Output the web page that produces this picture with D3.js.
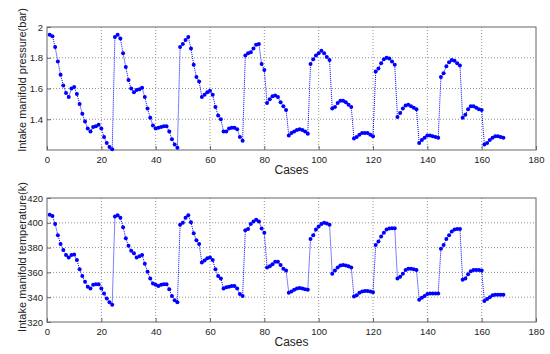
<!DOCTYPE html>
<html>
<head>
<meta charset="utf-8">
<script src="https://cdn.jsdelivr.net/npm/d3@7"></script>
<style>
  body { margin: 0; background: #fff; }
  text { font-family: Arial, "Liberation Sans", sans-serif; }
</style>
</head>
<body>
<svg id="chart" width="550" height="354"></svg>
<script>
// cases 1..168, 7 cycles of 24 (three 8-point steps each)
const pressure = [
  1.95, 1.94, 1.87, 1.775, 1.69, 1.62, 1.57, 1.545, 1.60, 1.61, 1.565, 1.50, 1.435, 1.385, 1.34, 1.32, 1.35, 1.355, 1.365, 1.34, 1.285, 1.245, 1.22, 1.205,
  1.935, 1.95, 1.925, 1.83, 1.74, 1.655, 1.60, 1.575, 1.59, 1.595, 1.605, 1.545, 1.47, 1.41, 1.36, 1.34, 1.345, 1.35, 1.355, 1.355, 1.32, 1.27, 1.235, 1.215,
  1.87, 1.89, 1.915, 1.935, 1.86, 1.755, 1.675, 1.645, 1.545, 1.56, 1.575, 1.585, 1.56, 1.48, 1.425, 1.40, 1.32, 1.32, 1.34, 1.345, 1.345, 1.335, 1.285, 1.26,
  1.815, 1.83, 1.835, 1.86, 1.885, 1.89, 1.76, 1.72, 1.505, 1.53, 1.55, 1.555, 1.545, 1.51, 1.485, 1.46, 1.295, 1.31, 1.32, 1.33, 1.335, 1.33, 1.32, 1.305,
  1.76, 1.79, 1.815, 1.83, 1.845, 1.83, 1.805, 1.785, 1.47, 1.48, 1.505, 1.52, 1.52, 1.51, 1.495, 1.48, 1.275, 1.285, 1.30, 1.31, 1.31, 1.31, 1.30, 1.29,
  1.71, 1.73, 1.765, 1.79, 1.80, 1.795, 1.775, 1.755, 1.415, 1.44, 1.47, 1.49, 1.495, 1.485, 1.475, 1.465, 1.245, 1.265, 1.28, 1.295, 1.295, 1.29, 1.285, 1.28,
  1.675, 1.70, 1.745, 1.77, 1.785, 1.78, 1.765, 1.75, 1.41, 1.43, 1.465, 1.485, 1.485, 1.475, 1.465, 1.46, 1.235, 1.245, 1.265, 1.28, 1.29, 1.29, 1.285, 1.28
];
const temperature = [
  406.5, 405.5, 399, 390, 383, 378, 374, 372, 374, 374.5, 370, 362.5, 357, 352.5, 348.5, 347, 350, 350.5, 350.5, 347, 343, 339, 336, 334,
  405, 406, 404, 396.5, 387.5, 381.5, 377.5, 375.5, 372, 373, 374, 367, 360.5, 355, 351, 350, 349, 350, 350.5, 350.5, 346.5, 341, 337.5, 336,
  398.5, 400, 404, 406, 400.5, 391.5, 386, 383, 368, 369.5, 371.5, 372, 370, 362.5, 357, 355, 347, 348, 348.5, 349, 349, 347, 342.5, 341,
  394, 395, 399, 401, 402.5, 401, 395.5, 392, 364, 365, 366.5, 368.5, 368.5, 366, 363, 361.5, 343.5, 344.5, 346, 347, 347.5, 347, 346.5, 346,
  387, 390, 394.5, 397, 399, 400, 399.5, 398.5, 359, 361.5, 364, 365.5, 366, 365.5, 365, 364, 340.5, 341.5, 343.5, 344.5, 345, 345, 344.5, 344,
  382, 385, 389, 392, 394.5, 395.5, 395.7, 395.7, 355, 356.5, 359, 362, 363, 363, 362.5, 362, 338, 339.5, 341, 342.5, 343, 343, 343, 343,
  379, 382, 387, 390, 393, 394.5, 395, 395, 354, 355, 358.5, 361, 362, 362, 362, 361.5, 337, 338.5, 340, 341.5, 342, 342, 342, 342
];
const xTicks = [0, 20, 40, 60, 80, 100, 120, 140, 160, 180];
const pressureTicks = [1.4, 1.6, 1.8, 2];
const temperatureTicks = [320, 340, 360, 380, 400, 420];

const svg = d3.select("#chart");
const left = 47, right = 536;

function drawPanel(values, yDomain, yTicks, top, bottom, yLabel, labelY) {
  const x = d3.scaleLinear().domain([0, 180]).range([left, right]);
  const y = d3.scaleLinear().domain(yDomain).range([bottom, top]);
  const g = svg.append("g");

  // dotted grid
  g.selectAll(".vg").data(xTicks.slice(1, -1)).join("line")
    .attr("x1", d => x(d)).attr("x2", d => x(d))
    .attr("y1", top).attr("y2", bottom)
    .attr("stroke", "#777").attr("stroke-width", 0.8)
    .attr("stroke-dasharray", "1,2");
  g.selectAll(".hg").data(yTicks.filter(t => t > yDomain[0] && t < yDomain[1])).join("line")
    .attr("x1", left).attr("x2", right)
    .attr("y1", d => y(d)).attr("y2", d => y(d))
    .attr("stroke", "#777").attr("stroke-width", 0.8)
    .attr("stroke-dasharray", "1,2");

  // axes
  const xAxis = d3.axisBottom(x).tickValues(xTicks).tickSize(-4).tickPadding(6);
  g.append("g").attr("transform", `translate(0,${bottom})`).call(xAxis);
  const yAxis = d3.axisLeft(y).tickValues(yTicks).tickSize(-4).tickPadding(4)
    .tickFormat(d3.format("~g"));
  g.append("g").attr("transform", `translate(${left},0)`).call(yAxis);
  g.selectAll(".domain").remove();
  g.selectAll(".tick line").attr("stroke", "#666");
  g.selectAll(".tick text").attr("font-size", 9.5).attr("fill", "#222")
    .attr("font-family", "Arial, 'Liberation Sans', sans-serif");

  // box
  g.append("rect")
    .attr("x", left).attr("y", top)
    .attr("width", right - left).attr("height", bottom - top)
    .attr("fill", "none").attr("stroke", "#666").attr("stroke-width", 1);

  // series
  const line = d3.line().x((d, i) => x(i + 1)).y(d => y(d));
  g.append("path").datum(values)
    .attr("d", line).attr("fill", "none")
    .attr("stroke", "#0000ff").attr("stroke-width", 1)
    .attr("stroke-dasharray", "1,1");
  g.selectAll(".pt").data(values).join("circle")
    .attr("cx", (d, i) => x(i + 1)).attr("cy", d => y(d))
    .attr("r", 2).attr("fill", "#0000ff");

  // labels
  g.append("text")
    .attr("x", (left + right) / 2).attr("y", bottom + 24)
    .attr("text-anchor", "middle").attr("font-size", 12).attr("fill", "#222")
    .text("Cases");
  g.append("text")
    .attr("transform", `translate(26,${labelY}) rotate(-90)`)
    .attr("text-anchor", "middle").attr("font-size", 11).attr("fill", "#222")
    .text(yLabel);
}

drawPanel(pressure, [1.2, 2], pressureTicks, 27, 150, "Intake manifold pressure(bar)", 80);
drawPanel(temperature, [320, 420], temperatureTicks, 198, 322, "Intake manifold temperature(k)", 257);
</script>
</body>
</html>
